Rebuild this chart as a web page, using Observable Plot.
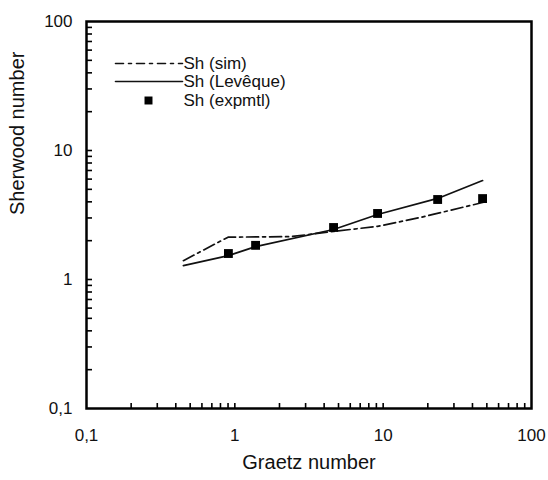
<!DOCTYPE html>
<html>
<head>
<meta charset="utf-8">
<script src="https://cdn.jsdelivr.net/npm/d3@7"></script>
<script src="https://cdn.jsdelivr.net/npm/@observablehq/plot@0.6"></script>
<style>
  html, body { margin: 0; padding: 0; background: #fff; }
  #chart { width: 548px; height: 480px; }
</style>
</head>
<body>
<div id="chart"></div>
<script>
// Experimental Sherwood numbers
const gzExp = [0.905, 1.38, 4.63, 9.17, 23.3, 46.8];
const shExp = [1.59, 1.84, 2.53, 3.25, 4.17, 4.24];
// Levêque correlation
const gzLev = [0.45, 0.905, 1.38, 4.63, 9.17, 23.3, 46.8];
const shLev = [1.28, 1.53, 1.80, 2.44, 3.19, 4.25, 5.85];
// Simulation
const gzSim = [0.45, 0.90, 2.4, 4.63, 9.17, 17.9, 46.8];
const shSim = [1.40, 2.13, 2.15, 2.36, 2.58, 3.03, 3.95];

const majorTicks = [0.1, 1, 10, 100];
const majorLabels = ["0,1", "1", "10", "100"];
const minorTicks = [0.2,0.3,0.4,0.5,0.6,0.7,0.8,0.9,1,2,3,4,5,6,7,8,9,10,20,30,40,50,60,70,80,90];

const legendNames = ["Sh (sim)", "Sh (Levêque)", "Sh (expmtl)"];

const W = 548, H = 480;
const mL = 86, mR = 17, mT = 21, mB = 72;
const innerW = W - mL - mR, innerH = H - mT - mB;

const lev = gzLev.map((g, i) => ({g, s: shLev[i]}));
const sim = gzSim.map((g, i) => ({g, s: shSim[i]}));
const exp = gzExp.map((g, i) => ({g, s: shExp[i]}));

const fmt = d => majorLabels[majorTicks.indexOf(d)];

const hline = {draw(context, l) { context.moveTo(0, 0); context.lineTo(0, -l); }};

const legendText = (name, dy) => Plot.text([name], {frameAnchor: "top-left", dx: 97, dy, textAnchor: "start", lineAnchor: "middle", fontSize: 17, fill: "#111"});

const chart = Plot.plot({
  width: W, height: H,
  marginLeft: mL, marginRight: mR, marginTop: mT, marginBottom: mB,
  style: {fontFamily: "'Liberation Sans', Arial, sans-serif", fontSize: "17px", color: "#111", background: "#fff"},
  x: {type: "log", domain: [0.1, 100]},
  y: {type: "log", domain: [0.1, 100]},
  marks: [
    Plot.axisX(majorTicks, {tickSize: 0, tickPadding: 20, tickFormat: fmt, label: null, fontSize: 17}),
    Plot.axisY(majorTicks, {tickSize: 0, tickPadding: 14, tickFormat: fmt, label: null, fontSize: 17}),
    Plot.tickX(minorTicks, {x: d => d, insetTop: innerH - 5, stroke: "#000", strokeWidth: 1.6}),
    Plot.tickY(minorTicks, {y: d => d, insetRight: innerW - 6, stroke: "#000", strokeWidth: 1.6}),
    Plot.line(sim, {x: "g", y: "s", stroke: "#111", strokeWidth: 1.7, strokeDasharray: "12,4,3,4"}),
    Plot.line(lev, {x: "g", y: "s", stroke: "#111", strokeWidth: 1.7}),
    Plot.dot(exp, {x: "g", y: "s", symbol: "square", r: 5, fill: "#000", stroke: "none"}),
    Plot.frame({stroke: "#000", strokeWidth: 2.5}),
    // legend
    Plot.vector([0], {frameAnchor: "top-left", dx: 29, dy: 42, length: 67, rotate: 90, anchor: "start", shape: hline, stroke: "#111", strokeWidth: 1.6, strokeDasharray: "8,5,3,5"}),
    Plot.vector([0], {frameAnchor: "top-left", dx: 29, dy: 60, length: 67, rotate: 90, anchor: "start", shape: hline, stroke: "#111", strokeWidth: 1.6}),
    Plot.dot([0], {frameAnchor: "top-left", dx: 62, dy: 79, symbol: "square", r: 4.5, fill: "#000"}),
    legendText(legendNames[0], 42),
    legendText(legendNames[1], 60),
    legendText(legendNames[2], 79),
    // axis titles
    Plot.text(["Graetz number"], {frameAnchor: "bottom", dy: 60, fontSize: 20, fill: "#111"}),
    Plot.text(["Sherwood number"], {frameAnchor: "left", dx: -69, rotate: -90, fontSize: 20, fill: "#111"})
  ]
});
document.getElementById("chart").appendChild(chart);
</script>
</body>
</html>
